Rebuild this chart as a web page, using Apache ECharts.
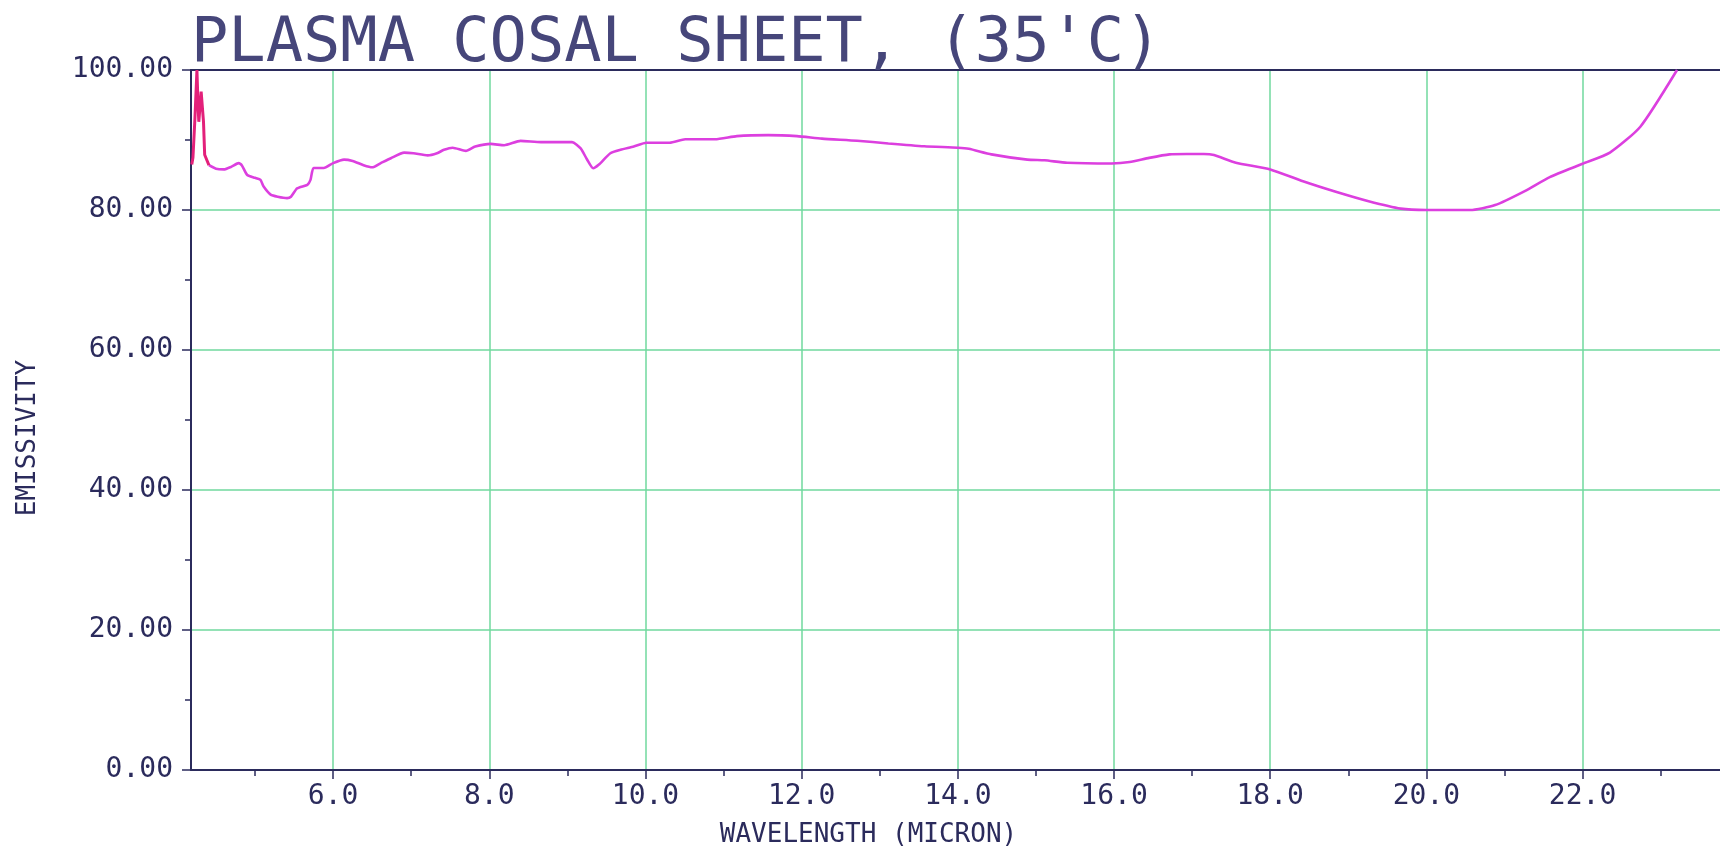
<!DOCTYPE html>
<html>
<head>
<meta charset="utf-8">
<title>Plasma Cosal Sheet emissivity</title>
<script src="https://cdn.jsdelivr.net/npm/echarts@6/dist/echarts.min.js"></script>
<style>
  html, body { margin: 0; padding: 0; background: #fff; }
  #chart { width: 1720px; height: 854px; }
</style>
</head>
<body>
<div id="chart"></div>
<script>
// values
var wavelength = [4.19, 4.205, 4.23, 4.256, 4.27, 4.28, 4.31, 4.34, 4.355, 4.41,
  4.50, 4.60, 4.70, 4.79, 4.83, 4.90, 5.00, 5.07, 5.11, 5.20,
  5.29, 5.41, 5.46, 5.54, 5.67, 5.71, 5.75, 5.88, 6.00, 6.14,
  6.25, 6.39, 6.50, 6.61, 6.74, 6.91, 7.03, 7.21, 7.33, 7.42,
  7.53, 7.70, 7.82, 8.02, 8.19, 8.40, 8.66, 9.06, 9.17, 9.25,
  9.33, 9.40, 9.55, 9.68, 9.85, 10.01, 10.31, 10.51, 10.89, 11.17,
  11.57, 11.94, 12.26, 12.71, 13.11, 13.57, 14.00, 14.14, 14.43, 14.89,
  15.11, 15.40, 15.97, 16.20, 16.45, 16.71, 16.93, 17.15, 17.28, 17.56,
  18.00, 18.42, 18.84, 19.26, 19.67, 20.00, 20.56, 20.88, 21.26, 21.58,
  22.00, 22.35, 22.74, 23.21];
var emissivity = [86.5, 87.5, 93.0, 100.0, 95.0, 92.6, 96.9, 92.6, 87.9, 86.4,
  85.9, 85.8, 86.2, 86.7, 86.4, 85.0, 84.6, 84.3, 83.35, 82.2,
  81.9, 81.7, 81.9, 83.1, 83.6, 84.3, 86.0, 86.0, 86.7, 87.2,
  87.0, 86.4, 86.1, 86.7, 87.4, 88.2, 88.1, 87.8, 88.1, 88.6,
  88.9, 88.45, 89.06, 89.44, 89.25, 89.87, 89.7, 89.7, 88.8, 87.25,
  85.96, 86.45, 88.1, 88.6, 89.06, 89.6, 89.6, 90.1, 90.1, 90.55,
  90.7, 90.55, 90.2, 89.9, 89.5, 89.1, 88.9, 88.75, 87.95, 87.2,
  87.1, 86.75, 86.65, 86.85, 87.45, 87.95, 88.0, 88.0, 87.85, 86.75,
  85.8, 84.1, 82.6, 81.25, 80.2, 80.0, 80.0, 80.7, 82.7, 84.7,
  86.6, 88.2, 91.9, 100.0];
// the first points (the spike next to the axis) plot darker, pen went over them many times
var spikePoints = 10;

var xMajorTicks = [6, 8, 10, 12, 14, 16, 18, 20, 22];
var xMinorTicks = [5, 7, 9, 11, 13, 15, 17, 19, 21, 23];

var ink = '#2b2b5c';
var gridGreen = '#70d89e';
var mono = '"DejaVu Sans Mono", monospace';
var xMin = 4.18, xMax = 23.76;

var points = wavelength.map(function (w, i) { return [w, emissivity[i]]; });

var option = {
    backgroundColor: '#ffffff',
    animation: false,
    title: {
        text: "PLASMA COSAL SHEET, (35'C)",
        left: 186,
        top: 9,
        textStyle: { fontFamily: mono, fontSize: 62, fontWeight: 'normal', color: '#46467a' }
    },
    grid: { left: 191, right: 0, top: 70, bottom: 84 },
    xAxis: [
        {
            type: 'value', min: xMin, max: xMax, position: 'bottom', z: 3,
            name: 'WAVELENGTH (MICRON)',
            nameLocation: 'middle',
            nameGap: 52,
            nameTextStyle: { fontFamily: mono, fontSize: 26, color: ink, padding: [0, 174, 0, 0] },
            axisLine: { lineStyle: { color: ink, width: 2 } },
            axisTick: { customValues: xMajorTicks, length: 9, lineStyle: { color: ink, width: 1.5 } },
            axisLabel: {
                customValues: xMajorTicks,
                formatter: function (v) { return v.toFixed(1); },
                margin: 13, fontFamily: mono, fontSize: 28, color: ink
            },
            splitLine: { show: true, lineStyle: { color: gridGreen, width: 1.5 } }
        },
        {
            // odd-micron minor ticks
            type: 'value', min: xMin, max: xMax, position: 'bottom',
            axisLine: { show: false },
            axisTick: { customValues: xMinorTicks, length: 6, lineStyle: { color: ink, width: 1.5 } },
            axisLabel: { show: false },
            splitLine: { show: false }
        },
        {
            // frame line along the top
            type: 'value', min: xMin, max: xMax, position: 'top', z: 3,
            axisLine: { lineStyle: { color: ink, width: 2 } },
            axisTick: { show: false },
            axisLabel: { show: false },
            splitLine: { show: false }
        }
    ],
    yAxis: {
        type: 'value', min: 0, max: 100, interval: 20,
        name: 'EMISSIVITY',
        nameLocation: 'middle',
        nameGap: 150,
        nameTextStyle: { fontFamily: mono, fontSize: 26, color: ink, padding: [0, 36, 0, 0] },
        axisLine: { show: true, lineStyle: { color: ink, width: 2 } },
        axisTick: { show: true, length: 9, lineStyle: { color: ink, width: 1.5 } },
        minorTick: { show: true, splitNumber: 2, length: 6, lineStyle: { color: ink, width: 1.5 } },
        axisLabel: {
            formatter: function (v) { return v.toFixed(2); },
            margin: 18, fontFamily: mono, fontSize: 28, color: ink
        },
        splitLine: { lineStyle: { color: gridGreen, width: 1.5 }, showMinLine: false, showMaxLine: false }
    },
    series: [
        {
            name: 'Emissivity',
            type: 'line',
            data: points.slice(spikePoints - 1),
            showSymbol: false,
            smooth: 0.2,
            lineStyle: { width: 2.6, color: '#dc3fdf' },
            clip: true
        },
        {
            name: 'Emissivity spike',
            type: 'line',
            data: points.slice(0, spikePoints),
            showSymbol: false,
            lineStyle: { width: 3, color: '#e3207a' },
            clip: true
        }
    ]
};

var chart = echarts.init(document.getElementById('chart'));
chart.setOption(option);
</script>
</body>
</html>
